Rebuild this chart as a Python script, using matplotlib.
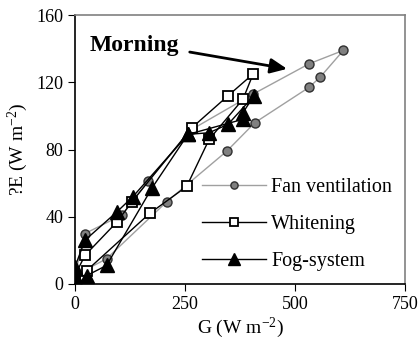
import matplotlib
matplotlib.use("Agg")
import matplotlib.pyplot as plt

plt.rcParams["font.family"] = ["Liberation Serif", "DejaVu Serif"]
plt.rcParams["mathtext.default"] = "regular"

# daily loops (G and latent heat flux, W m-2)
fan_g = [0, 23, 107, 166, 266, 405, 532, 610, 557, 532, 409, 345, 209, 72, 0]
fan_e = [5, 30, 41, 61, 92, 113, 131, 139, 123, 117, 96, 79, 49, 15, 5]

white_g = [0, 23, 96, 130, 266, 348, 405, 382, 305, 254, 170, 27, 0]
white_e = [5, 17, 37, 49, 93, 112, 125, 110, 86, 58, 42, 8, 5]

fog_g = [0, 0, 23, 96, 132, 257, 305, 348, 407, 382, 382, 257, 175, 72, 27, 0]
fog_e = [5, 10, 26, 43, 52, 89, 90, 95, 112, 102, 98, 89, 57, 11, 5, 5]

x_ticks = [0, 250, 500, 750]
y_ticks = [0, 40, 80, 120, 160]

fig = plt.figure(figsize=(4.18, 3.59), dpi=100)
ax = fig.add_axes([0.179, 0.209, 0.79, 0.749])

ax.plot(fan_g, fan_e, "-o", color="#a0a0a0", lw=1.0, ms=6.5,
        mfc="#808080", mec="#303030", mew=1.0, label="Fan ventilation")
ax.plot(white_g, white_e, "-s", color="black", lw=1.0, ms=6.5,
        mfc="white", mec="black", mew=1.3, label="Whitening")
ax.plot(fog_g, fog_e, "-^", color="black", lw=1.0, ms=10,
        mfc="black", mec="black", label="Fog-system")

ax.set_xlim(0, 750)
ax.set_ylim(0, 160)
ax.set_xticks(x_ticks)
ax.set_yticks(y_ticks)
ax.tick_params(direction="out", length=5, labelsize=13, colors="black")
for side in ("top", "right"):
    ax.spines[side].set_color("#808080")
    ax.spines[side].set_linewidth(1.2)
for side in ("left", "bottom"):
    ax.spines[side].set_linewidth(1.2)

ax.set_xlabel("G (W m$^{-2}$)", fontsize=14, labelpad=2)
ax.set_ylabel("?E (W m$^{-2}$)", fontsize=14, labelpad=4)

ax.text(34, 142, "Morning", fontsize=17, fontweight="bold", va="center")
ax.annotate("", xy=(482, 128), xytext=(261, 138),
            arrowprops=dict(arrowstyle="-|>,head_length=1.0,head_width=0.45",
                            color="black", lw=2.0, shrinkA=0, shrinkB=0))

ax.legend(loc="upper left", bbox_to_anchor=(0.385, 0.395), frameon=False,
          fontsize=14.5, handlelength=3.2, handletextpad=0.25, labelspacing=0.9,
          borderaxespad=0, borderpad=0, markerscale=0.8)

fig.savefig("out.png", dpi=100)
